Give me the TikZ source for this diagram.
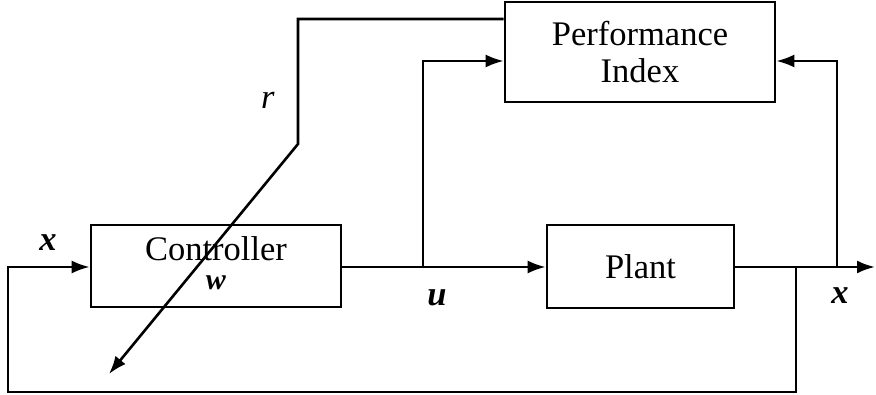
\documentclass[tikz,border=0pt]{standalone}
\usepackage{fontspec}
\setmainfont{Liberation Serif}
\usetikzlibrary{arrows.meta}
\begin{document}
\begin{tikzpicture}[x=1pt,y=-1pt,
  blk/.style={draw,line width=2.6pt,inner sep=0pt,align=center,
    font=\fontsize{34.5}{37}\selectfont},
  wire/.style={line width=2.6pt},
  arr/.style={wire,-{Latex[length=18pt,width=13pt]}},
  lbl/.style={font=\fontsize{34.5}{37}\selectfont,inner sep=0pt}]
\useasboundingbox (0,0) rectangle (876,395);
\node[blk,minimum width=270pt,minimum height=100pt] (pi) at (640,52) {Performance\\Index};
\node[blk,minimum width=250pt,minimum height=82pt] (ctrl) at (216,266) {};
\node[lbl,anchor=base] (ctrlt) at (216,261) {Controller};
\node[lbl,anchor=base,font=\fontsize{30}{32}\selectfont] (wl) at (216,290) {\textbf{\textit{w}}};
\node[blk,minimum width=187pt,minimum height=83pt] (plant) at (640.5,266.5) {Plant};
\coordinate (uj) at (423,267);
\coordinate (ut) at (423,61);
\coordinate (xo) at (875,267);
\coordinate (xj) at (837,267);
\coordinate (xt) at (837,61);
\coordinate (fj) at (796,267);
\coordinate (fb1) at (796,392);
\coordinate (fb2) at (8,392);
\coordinate (fb3) at (8,267);
\coordinate (r1) at (298,19);
\coordinate (r2) at (298,144);
\coordinate (r3) at (109,374);
\draw[arr] (ctrl.east |- uj) -- (plant.west |- uj);
\draw[arr] (uj) -- (ut) -- (pi.west |- ut);
\draw[arr] (plant.east |- xj) -- (xo);
\draw[arr] (xj) -- (xt) -- (pi.east |- xt);
\draw[arr] (fj) -- (fb1) -- (fb2) -- (fb3) -- (ctrl.west |- fb3);
\draw[arr] (pi.west |- r1) -- (r1) -- (r2) -- (r3);
\node[lbl] (rl) at (268,100) {\textit{r}};
\node[lbl] (xl) at (48,243) {\textbf{\textit{x}}};
\node[lbl] (ul) at (437,298) {\textbf{\textit{u}}};
\node[lbl] (xr) at (840,296) {\textbf{\textit{x}}};
\end{tikzpicture}
\end{document}
